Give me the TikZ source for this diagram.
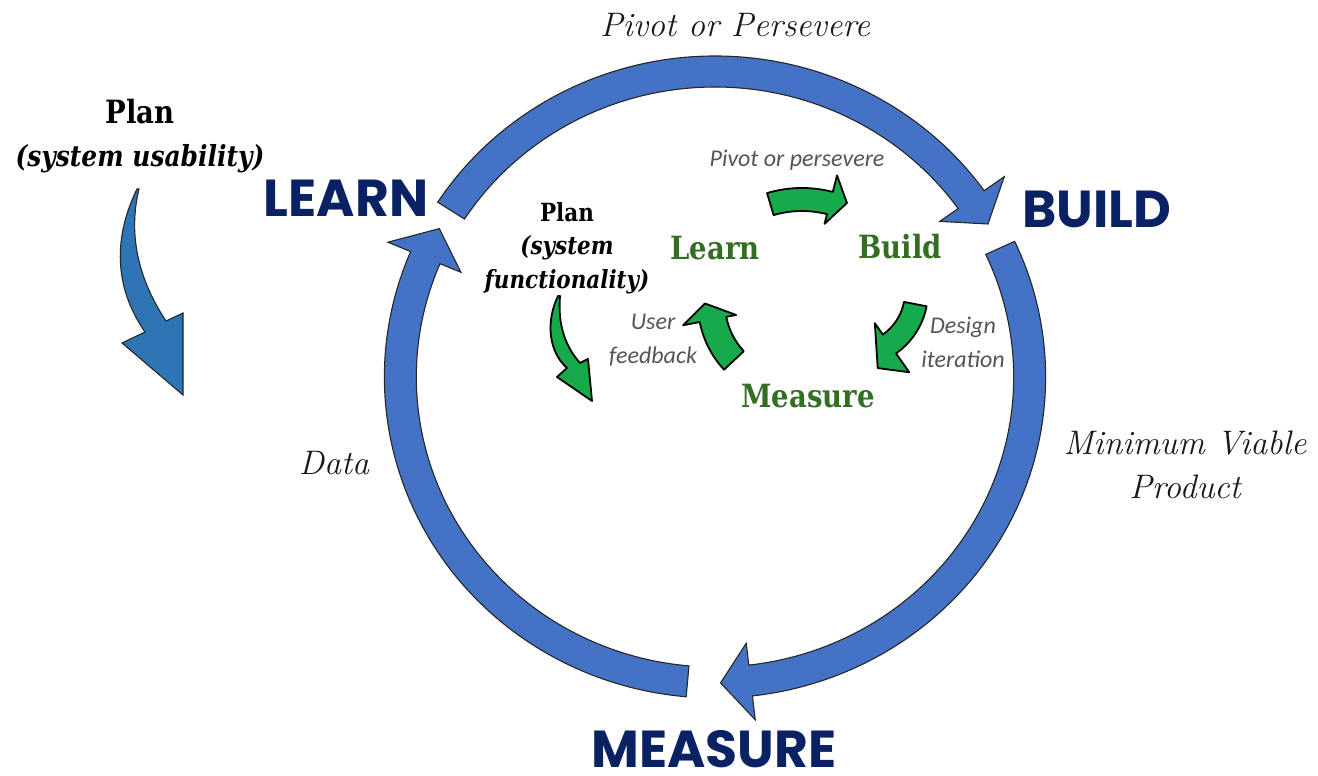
\documentclass[tikz,border=0pt]{standalone}
\usepackage{fontspec}
\newfontfamily\headfont{Poppins}
\newfontfamily\slabfont{DejaVu Serif}[FakeStretch=0.86]
\newfontfamily\notefont{Carlito}
\usepackage{tikz}
\definecolor{ringblue}{RGB}{68,114,196}
\definecolor{planblue}{RGB}{46,117,182}
\definecolor{leafgreen}{RGB}{22,170,75}
\definecolor{wordgreen}{RGB}{52,110,35}
\definecolor{navy}{RGB}{10,34,100}
\definecolor{notegray}{RGB}{85,85,85}
\tikzset{
    ring/.style={fill=ringblue, draw=black!85, line width=1.1pt, line join=miter}, % 外圈箭头
    plan arrow/.style={fill=planblue, draw=black!85, line width=1.1pt}, % 左侧箭头
    leaf/.style={fill=leafgreen, draw=black, line width=1.8pt, line join=round}, % 内圈箭头
    big word/.style={font=\headfont\bfseries\fontsize{52}{60}\selectfont, text=navy, inner sep=1pt}, % 外圈阶段
    loop word/.style={font=\slabfont\bfseries\fontsize{32}{38}\selectfont, text=wordgreen}, % 内圈阶段
    phase note/.style={font=\itshape\fontsize{34}{44}\selectfont, text=black!90, align=center}, % 外圈说明
    loop note/.style={font=\notefont\itshape\fontsize{24}{34}\selectfont, text=notegray, align=center} % 内圈说明
}
% #1 样式, #2 #3 内外半径, #4 #5 箭翼半径, #6 尾角, #7 箭根角, #8 #9 箭尖角与半径
\newcommand{\ringarrow}[9]{%
    \draw[#1] (#6:#3) arc[start angle=#6, end angle=#7, radius=#3] -- (#7:#5) -- (#8:#9)
        -- (#7:#4) -- (#7:#2) arc[start angle=#7, end angle=#6, radius=#2] -- cycle;}

\begin{document}
\begin{tikzpicture}[x=1pt, y=1pt]
    \useasboundingbox (0,0) rectangle (1318,776);

    \begin{scope}[shift={(715,399)}, xscale=1.03]
        \ringarrow{ring}{290}{321}{268}{345}{147}{35.5}{30}{306}
        \ringarrow{ring}{290}{321}{268}{345}{25}{-83.5}{-89}{306}
        \ringarrow{ring}{290}{321}{268}{345}{265}{157}{151}{306}
    \end{scope}

    \ringarrow{leaf, shift={(802,465)}}{100}{123}{90}{140}{106.5}{75.5}{67.4}{117}
    \ringarrow{leaf, shift={(795,472.5)}}{70}{97}{60}{114}{223}{191}{180}{90}
    \ringarrow{leaf, shift={(853,484)}}{52}{75}{38}{98}{-11}{-55}{-72}{80}

    \draw[plan arrow] (137,587) .. controls (114,540) and (113,490) .. (145,444) -- (122,433) -- (183,381)
        -- (183,463) -- (166,455) .. controls (133,505) and (130,550) .. (139,587) -- cycle;
    \draw[leaf] (558,480) .. controls (546,455) and (548,425) .. (567,408) -- (557,399) -- (592,375)
        -- (588,417) -- (580,413) .. controls (563,432) and (558,455) .. (560,480) -- cycle;

    \node[big word] (learn) at (346,578) {LEARN};
    \node[big word] (build) at (1097,567) {BUILD};
    \node[big word] (measure) at (714,27) {MEASURE};
    \node[loop word] (learn in) at (715,528) {Learn};
    \node[loop word] (build in) at (900,529) {Build};
    \node[loop word] (measure in) at (808,380) {Measure};

    \node[phase note] (pivot) at (735,751) {Pivot or Persevere};
    \node[phase note] (data) at (334,313) {Data};
    \node[phase note] (mvp) at (1185,311) {Minimum Viable\\Product};
    \node[font=\slabfont\bfseries\fontsize{32}{38}\selectfont] (plan) at (140,664) {Plan};
    \node[font=\slabfont\bfseries\itshape\fontsize{29}{38}\selectfont] (usability) at (140,617) {(system usability)};
    \node[font=\slabfont\bfseries\fontsize{25}{33.5}\selectfont, align=center] (plan in) at (567,528)
        {Plan\\\textit{(system}\\\textit{functionality)}};

    \node[loop note] (pivot in) at (797,616) {Pivot or persevere};
    \node[loop note] (feedback) at (653,436) {User\\feedback};
    \node[loop note] (design) at (963,434) {Design\\iteration};
\end{tikzpicture}
\end{document}
